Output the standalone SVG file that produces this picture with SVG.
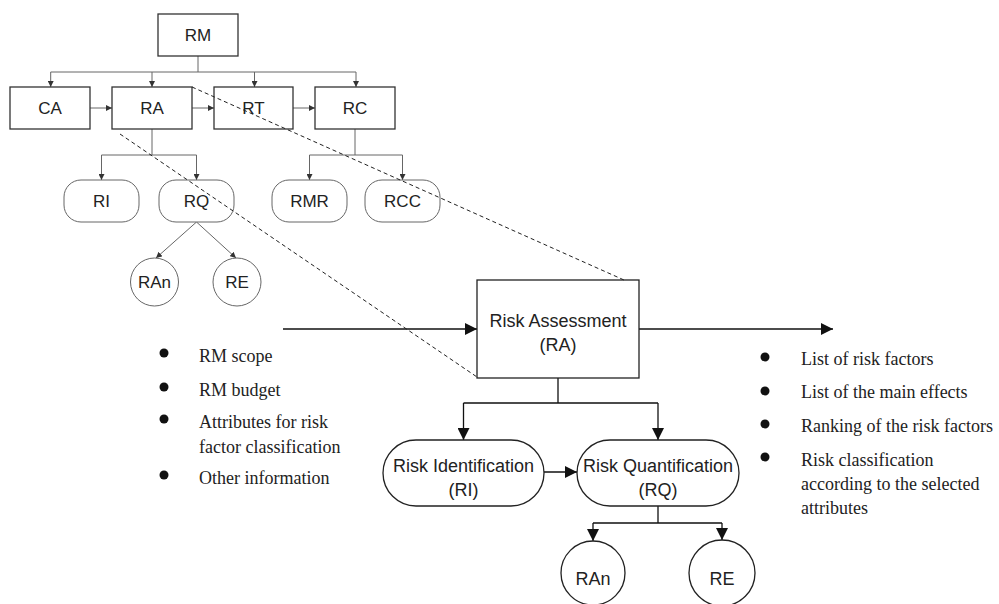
<svg xmlns="http://www.w3.org/2000/svg" width="999" height="604" viewBox="0 0 999 604">
  <style>
    .bg { fill: #ffffff; }
    .box { fill: #ffffff; stroke: #333333; stroke-width: 1.3; }
    .pill { fill: #ffffff; stroke: #666666; stroke-width: 1; }
    .bigbox { fill: #ffffff; stroke: #222222; stroke-width: 1.3; }
    .thin { fill: none; stroke: #666666; stroke-width: 1; }
    .thick { fill: none; stroke: #111111; stroke-width: 1.3; }
    .dash { fill: none; stroke: #222222; stroke-width: 1; stroke-dasharray: 4 3; }
    .lbl { font-family: "Liberation Sans", Arial, sans-serif; font-size: 17px; fill: #222222; text-anchor: middle; }
    .lbl-lg { font-family: "Liberation Sans", Arial, sans-serif; font-size: 18px; fill: #222222; text-anchor: middle; }
    .note { font-family: "Liberation Serif", "Times New Roman", serif; font-size: 18px; fill: #222222; }
    .dot { fill: #111111; }
  </style>
  <defs>
    <marker id="arrS" markerUnits="userSpaceOnUse" markerWidth="6" markerHeight="6" refX="6" refY="3" orient="auto">
      <path d="M0,0 L6,3 L0,6 z" fill="#333333"/>
    </marker>
    <marker id="arrL" markerUnits="userSpaceOnUse" markerWidth="12" markerHeight="12" refX="12" refY="6" orient="auto">
      <path d="M0,0 L12,6 L0,12 z" fill="#111111"/>
    </marker>
  </defs>

  <rect class="bg" x="0" y="0" width="999" height="604"/>

  <!-- connectors -->
  <g id="connectors">
    <!-- upper hierarchy -->
    <path class="thin" d="M198,56 V72 M50.7,72 H356"/>
    <path class="thin" d="M50.7,72 V87" marker-end="url(#arrS)"/>
    <path class="thin" d="M152,72 V87" marker-end="url(#arrS)"/>
    <path class="thin" d="M254.5,72 V87" marker-end="url(#arrS)"/>
    <path class="thin" d="M356,72 V87" marker-end="url(#arrS)"/>
    <path class="thin" d="M90,108 H112" marker-end="url(#arrS)"/>
    <path class="thin" d="M192,108 H214" marker-end="url(#arrS)"/>
    <path class="thin" d="M293,108 H315" marker-end="url(#arrS)"/>
    <path class="thin" d="M152,129 V155 M101.5,155 H196.5"/>
    <path class="thin" d="M101.5,155 V180" marker-end="url(#arrS)"/>
    <path class="thin" d="M196.5,155 V180" marker-end="url(#arrS)"/>
    <path class="thin" d="M355,129 V155 M309.5,155 H402.5"/>
    <path class="thin" d="M309.5,155 V180" marker-end="url(#arrS)"/>
    <path class="thin" d="M402.5,155 V180" marker-end="url(#arrS)"/>
    <path class="thin" d="M196.5,222 L156,258" marker-end="url(#arrS)"/>
    <path class="thin" d="M196.5,222 L236,258" marker-end="url(#arrS)"/>

    <!-- detailed view -->
    <path class="thick" d="M283,329 H477" marker-end="url(#arrL)"/>
    <path class="thick" d="M639,329 H833" marker-end="url(#arrL)"/>
    <path class="thick" d="M558,378 V403 M463.5,403 H658"/>
    <path class="thick" d="M463.5,403 V440" marker-end="url(#arrL)"/>
    <path class="thick" d="M658,403 V440" marker-end="url(#arrL)"/>
    <path class="thick" d="M544,472 H577" marker-end="url(#arrL)"/>
    <path class="thick" d="M658,506 V523 M593,523 H722"/>
    <path class="thick" d="M593,523 V541" marker-end="url(#arrL)"/>
    <path class="thick" d="M722,523 V540" marker-end="url(#arrL)"/>
  </g>

  <!-- upper hierarchy nodes -->
  <g id="node-RM">
    <rect class="box" x="158" y="14" width="80" height="42"/>
    <text class="lbl" x="198" y="41">RM</text>
  </g>
  <g id="node-CA">
    <rect class="box" x="10" y="87" width="80" height="42"/>
    <text class="lbl" x="50" y="114">CA</text>
  </g>
  <g id="node-RA">
    <rect class="box" x="112" y="87" width="80" height="42"/>
    <text class="lbl" x="152" y="114">RA</text>
  </g>
  <g id="node-RT">
    <rect class="box" x="214" y="87" width="79" height="42"/>
    <text class="lbl" x="253.5" y="114">RT</text>
  </g>
  <g id="node-RC">
    <rect class="box" x="315" y="87" width="80" height="42"/>
    <text class="lbl" x="355" y="114">RC</text>
  </g>
  <g id="node-RI">
    <rect class="pill" x="64" y="180" width="75" height="42" rx="17" ry="17"/>
    <text class="lbl" x="101.5" y="207">RI</text>
  </g>
  <g id="node-RQ">
    <rect class="pill" x="159" y="180" width="75" height="42" rx="17" ry="17"/>
    <text class="lbl" x="196.5" y="207">RQ</text>
  </g>
  <g id="node-RMR">
    <rect class="pill" x="272" y="180" width="75" height="42" rx="17" ry="17"/>
    <text class="lbl" x="309.5" y="207">RMR</text>
  </g>
  <g id="node-RCC">
    <rect class="pill" x="365" y="180" width="75" height="42" rx="17" ry="17"/>
    <text class="lbl" x="402.5" y="207">RCC</text>
  </g>
  <g id="node-RAn">
    <circle class="pill" cx="154.5" cy="282" r="24"/>
    <text class="lbl" x="154.5" y="288">RAn</text>
  </g>
  <g id="node-RE">
    <circle class="pill" cx="237" cy="282" r="24"/>
    <text class="lbl" x="237" y="288">RE</text>
  </g>

  <!-- detailed view nodes -->
  <g id="node-RiskAssessment">
    <rect class="bigbox" x="477" y="280" width="162" height="98"/>
    <text class="lbl-lg" x="558" y="327">Risk Assessment</text>
    <text class="lbl-lg" x="558" y="351">(RA)</text>
  </g>
  <g id="node-RiskIdentification">
    <rect class="bigbox" x="383" y="440" width="161" height="66" rx="33" ry="33"/>
    <text class="lbl-lg" x="463.5" y="472">Risk Identification</text>
    <text class="lbl-lg" x="463.5" y="496">(RI)</text>
  </g>
  <g id="node-RiskQuantification">
    <rect class="bigbox" x="577" y="440" width="162" height="66" rx="33" ry="33"/>
    <text class="lbl-lg" x="658" y="472">Risk Quantification</text>
    <text class="lbl-lg" x="658" y="496">(RQ)</text>
  </g>
  <g id="node-RAn-detail">
    <circle class="bigbox" cx="593" cy="573" r="32"/>
    <text class="lbl-lg" x="593" y="585">RAn</text>
  </g>
  <g id="node-RE-detail">
    <circle class="bigbox" cx="722" cy="573" r="33"/>
    <text class="lbl-lg" x="722" y="585">RE</text>
  </g>

  <!-- dashed zoom guides, drawn over the nodes they cross -->
  <g id="zoom-guides">
    <path class="dash" d="M192,87 L624,280"/>
    <path class="dash" d="M120,134 L477,377"/>
  </g>

  <!-- inputs -->
  <g id="inputs">
    <circle class="dot" cx="164" cy="353" r="4.5"/>
    <text class="note" x="199" y="362">RM scope</text>
    <circle class="dot" cx="164" cy="387" r="4.5"/>
    <text class="note" x="199" y="396">RM budget</text>
    <circle class="dot" cx="164" cy="419" r="4.5"/>
    <text class="note" x="199" y="428">Attributes for risk</text>
    <text class="note" x="199" y="453">factor classification</text>
    <circle class="dot" cx="164" cy="475" r="4.5"/>
    <text class="note" x="199" y="484">Other information</text>
  </g>

  <!-- outputs -->
  <g id="outputs">
    <circle class="dot" cx="765" cy="357" r="4.5"/>
    <text class="note" x="801" y="365">List of risk factors</text>
    <circle class="dot" cx="765" cy="391" r="4.5"/>
    <text class="note" x="801" y="398">List of the main effects</text>
    <circle class="dot" cx="765" cy="424" r="4.5"/>
    <text class="note" x="801" y="432">Ranking of the risk factors</text>
    <circle class="dot" cx="765" cy="457" r="4.5"/>
    <text class="note" x="801" y="466">Risk classification</text>
    <text class="note" x="801" y="490">according to the selected</text>
    <text class="note" x="801" y="514">attributes</text>
  </g>
</svg>
